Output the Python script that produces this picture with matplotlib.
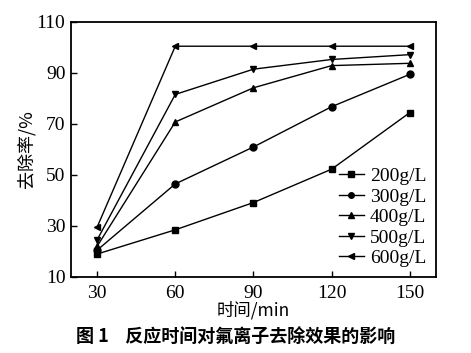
import matplotlib
matplotlib.use("Agg")
import matplotlib.pyplot as plt

time_min = [30, 60, 90, 120, 150]
labels = ["200g/L", "300g/L", "400g/L", "500g/L", "600g/L"]
s200 = [19.0, 28.5, 39.2, 52.3, 74.5]
s300 = [20.5, 46.5, 61.0, 76.8, 89.5]
s400 = [22.0, 70.8, 84.2, 92.9, 93.8]
s500 = [24.5, 81.6, 91.5, 95.3, 97.2]
s600 = [29.5, 100.5, 100.5, 100.5, 100.5]
series = [s200, s300, s400, s500, s600]
markers = ["s", "o", "^", "v", "<"]
yticks = [10, 30, 50, 70, 90, 110]

serif = ["Liberation Serif", "Noto Sans CJK SC"]
cjk = ["Noto Sans CJK SC", "Liberation Serif"]
plt.rcParams["font.family"] = serif

fig = plt.figure(figsize=(4.71, 3.53), dpi=100)
ax = fig.add_axes([0.1507, 0.2153, 0.775, 0.7224])
for vals, lab, m in zip(series, labels, markers):
    ax.plot(time_min, vals, color="black", lw=1.0, marker=m, markersize=5, label=lab)

ax.set_xlim(20, 160)
ax.set_ylim(10, 110)
ax.set_xticks(time_min)
ax.set_yticks(yticks)
ax.tick_params(direction="in", length=4, width=1, labelsize=14, pad=4)
ax.tick_params(axis="x", pad=6)
for sp in ax.spines.values():
    sp.set_linewidth(1.3)

ax.set_xlabel("时间/min", family=cjk, fontsize=12.5, labelpad=-1)
ax.set_ylabel("去除率/%", family=cjk, fontsize=13, labelpad=1)

leg = ax.legend(loc="lower right", frameon=False, fontsize=14, handlelength=1.3,
                handletextpad=0.3, labelspacing=0.15, borderaxespad=0.1, markerscale=0.8)
for t in leg.get_texts():
    t.set_family(serif)

fig.text(0.5, 0.045, "图 1    反应时间对氟离子去除效果的影响", family=cjk,
         fontsize=13, fontweight="bold", ha="center", va="center")

fig.savefig("out.png", dpi=100)
